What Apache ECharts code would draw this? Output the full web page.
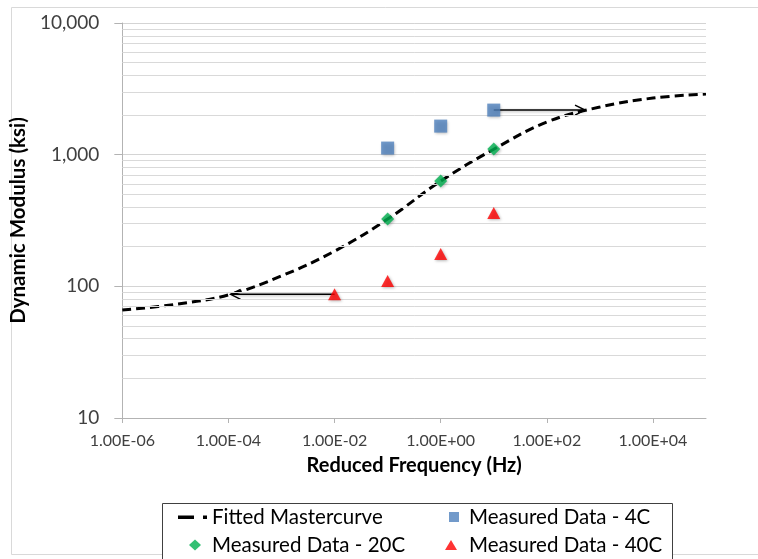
<!DOCTYPE html>
<html>
<head>
<meta charset="utf-8">
<script src="https://cdn.jsdelivr.net/npm/echarts@6/dist/echarts.min.js"></script>
<style>
html,body{margin:0;padding:0;background:#fff;}
#chart{width:758px;height:559px;}
</style>
</head>
<body>
<div id="chart"></div>
<script>
// ---- data ----
const curveFreq = [1e-6, 1e-5, 1e-4, 1e-3, 1e-2, 1e-1, 1, 10, 100, 1e3, 1e4, 1e5];
const curveModulus = [66, 73, 86, 120, 185, 324, 630, 1100, 1770, 2300, 2690, 2885];

const freq4C = [0.1, 1, 10];
const mod4C = [1122, 1648, 2180];

const freq20C = [0.1, 1, 10];
const mod20C = [324, 630, 1103];

const freq40C = [0.01, 0.1, 1, 10];
const mod40C = [87, 110, 176, 360];

// shift arrows: [fromFreq, toFreq, modulus]
const arrowRight = [10, 525, 2180];
const arrowLeft = [0.01, 1.1e-4, 87];

const xTickValues = [1e-6, 1e-4, 1e-2, 1, 1e2, 1e4];

const seriesNames = ['Fitted Mastercurve', 'Measured Data - 4C', 'Measured Data - 20C', 'Measured Data - 40C'];

// minor grid values (2..9 per decade)
const minorGrid = [];
[10, 100, 1000].forEach(d => { for (let k = 2; k <= 9; k++) minorGrid.push(d * k); });

const zip = (xs, ys) => xs.map((x, i) => [x, ys[i]]);
const FONT = 'Lato';
const shadow = { shadowBlur: 3, shadowOffsetX: 1, shadowOffsetY: 1, shadowColor: 'rgba(0,0,0,0.35)' };

function fmtX(v) {
  const e = Math.round(Math.log10(v));
  const s = (e < 0 ? '-' : '+') + String(Math.abs(e)).padStart(2, '0');
  return '1.00E' + s;
}

const legendText = { fontFamily: FONT, fontSize: 20.5, color: '#000', lineHeight: 22 };
// legend icons drawn in a 30x12 box
const BOX = 'M0,0M30,12';
const iconDash = 'path://' + BOX + 'M1,4.5h16v3.5h-16zM26,4.5h4v3.5h-4z';
const iconSquare = 'path://' + BOX + 'M15,1h10v10h-10z';
const iconDiamond = 'path://' + BOX + 'M18,0.5L24,6L18,11.5L12,6z';
const iconTriangle = 'path://' + BOX + 'M17,1L23,11L11,11z';

const chart = echarts.init(document.getElementById('chart'), null, { renderer: 'canvas' });
const option = {
  backgroundColor: '#fff',
  animation: false,
  textStyle: { fontFamily: FONT },
  grid: { left: 122, right: 52, top: 23, bottom: 141 },
  xAxis: {
    type: 'log', logBase: 10, min: 1e-6, max: 1e5,
    name: 'Reduced Frequency (Hz)', nameLocation: 'middle', nameGap: 38,
    nameTextStyle: { fontFamily: FONT, fontSize: 20, fontWeight: 'bold', color: '#000' },
    axisLine: { show: true, lineStyle: { color: '#b3b3b3', width: 1 } },
    axisTick: { show: true, length: 5, customValues: xTickValues, lineStyle: { color: '#b3b3b3' } },
    axisLabel: { customValues: xTickValues, formatter: fmtX, margin: 15, fontFamily: FONT, fontSize: 16, color: '#404040' },
    splitLine: { show: false }
  },
  yAxis: {
    type: 'log', logBase: 10, min: 10, max: 10000,
    name: 'Dynamic Modulus (ksi)', nameLocation: 'middle', nameGap: 83,
    nameTextStyle: { fontFamily: FONT, fontSize: 20.5, fontWeight: 'bold', color: '#000' },
    axisLine: { show: true, lineStyle: { color: '#b3b3b3', width: 1 } },
    axisTick: { show: true, length: 8, lineStyle: { color: '#b3b3b3' } },
    axisLabel: { margin: 23, fontFamily: FONT, fontSize: 19, color: '#404040',
      formatter: v => Math.round(v).toLocaleString('en-US') },
    splitLine: { show: true, lineStyle: { color: '#d4d4d4', width: 1 } }
  },
  legend: [
    { data: [{ name: seriesNames[0], icon: iconDash, itemStyle: { color: '#000' } },
             { name: seriesNames[2], icon: iconDiamond }],
      orient: 'vertical', left: 177, top: 506, padding: 0, height: 60, z: 10,
      itemWidth: 30, itemHeight: 12, itemGap: 6, textStyle: legendText },
    { data: [{ name: seriesNames[1], icon: iconSquare }, { name: seriesNames[3], icon: iconTriangle }],
      orient: 'vertical', left: 434, top: 506, padding: 0, height: 60, z: 10,
      itemWidth: 30, itemHeight: 12, itemGap: 6, textStyle: legendText }
  ],
  graphic: [
    { type: 'rect', shape: { x: 11.5, y: 7.5, width: 770, height: 547 }, style: { fill: 'none', stroke: '#d9d9d9', lineWidth: 1 }, silent: true, z: -1 },
    { type: 'rect', shape: { x: 162.5, y: 503.5, width: 510, height: 80 }, style: { fill: '#fff', stroke: '#404040', lineWidth: 1 }, silent: true, z: 0 }
  ],
  series: [
    { name: 'minor', type: 'line', data: [], silent: true, z: 1,
      markLine: { silent: true, symbol: ['none', 'none'], label: { show: false },
        lineStyle: { color: '#d9d9d9', type: 'solid', width: 1 },
        data: minorGrid.map(v => ({ yAxis: v })) } },
    { name: seriesNames[0], type: 'line', data: zip(curveFreq, curveModulus), smooth: 0.4,
      showSymbol: false, symbol: 'none', z: 3,
      lineStyle: { color: '#000', width: 3, type: [9, 5] }, itemStyle: { color: '#000' } },
    { name: 'arrowR', type: 'line', z: 4, silent: true,
      data: [
        { value: [arrowRight[0], arrowRight[2]], symbol: 'none' },
        { value: [arrowRight[1], arrowRight[2]], symbol: 'path://M0,0L10,5L0,10', symbolSize: [10, 10], symbolOffset: [-5, 0] }
      ],
      lineStyle: { color: '#000', width: 1.5, ...shadow },
      itemStyle: { color: 'none', borderColor: '#000', borderWidth: 1.5 } },
    { name: 'arrowL', type: 'line', z: 4, silent: true,
      data: [
        { value: [arrowLeft[0], arrowLeft[2]], symbol: 'none' },
        { value: [arrowLeft[1], arrowLeft[2]], symbol: 'path://M10,0L0,5L10,10', symbolSize: [10, 10], symbolOffset: [5, 0] }
      ],
      lineStyle: { color: '#000', width: 1.5, ...shadow },
      itemStyle: { color: 'none', borderColor: '#000', borderWidth: 1.5 } },
    { name: seriesNames[1], type: 'scatter', z: 5, data: zip(freq4C, mod4C), symbol: 'rect', symbolSize: 13,
      itemStyle: { color: '#4F81BD', ...shadow } },
    { name: seriesNames[2], type: 'scatter', z: 5, data: zip(freq20C, mod20C), symbol: 'diamond', symbolSize: 13,
      itemStyle: { color: '#00B050', ...shadow } },
    { name: seriesNames[3], type: 'scatter', z: 5, data: zip(freq40C, mod40C), symbol: 'triangle', symbolSize: [13, 12],
      itemStyle: { color: '#FF0000', ...shadow } }
  ]
};
chart.setOption(option);
</script>
</body>
</html>
